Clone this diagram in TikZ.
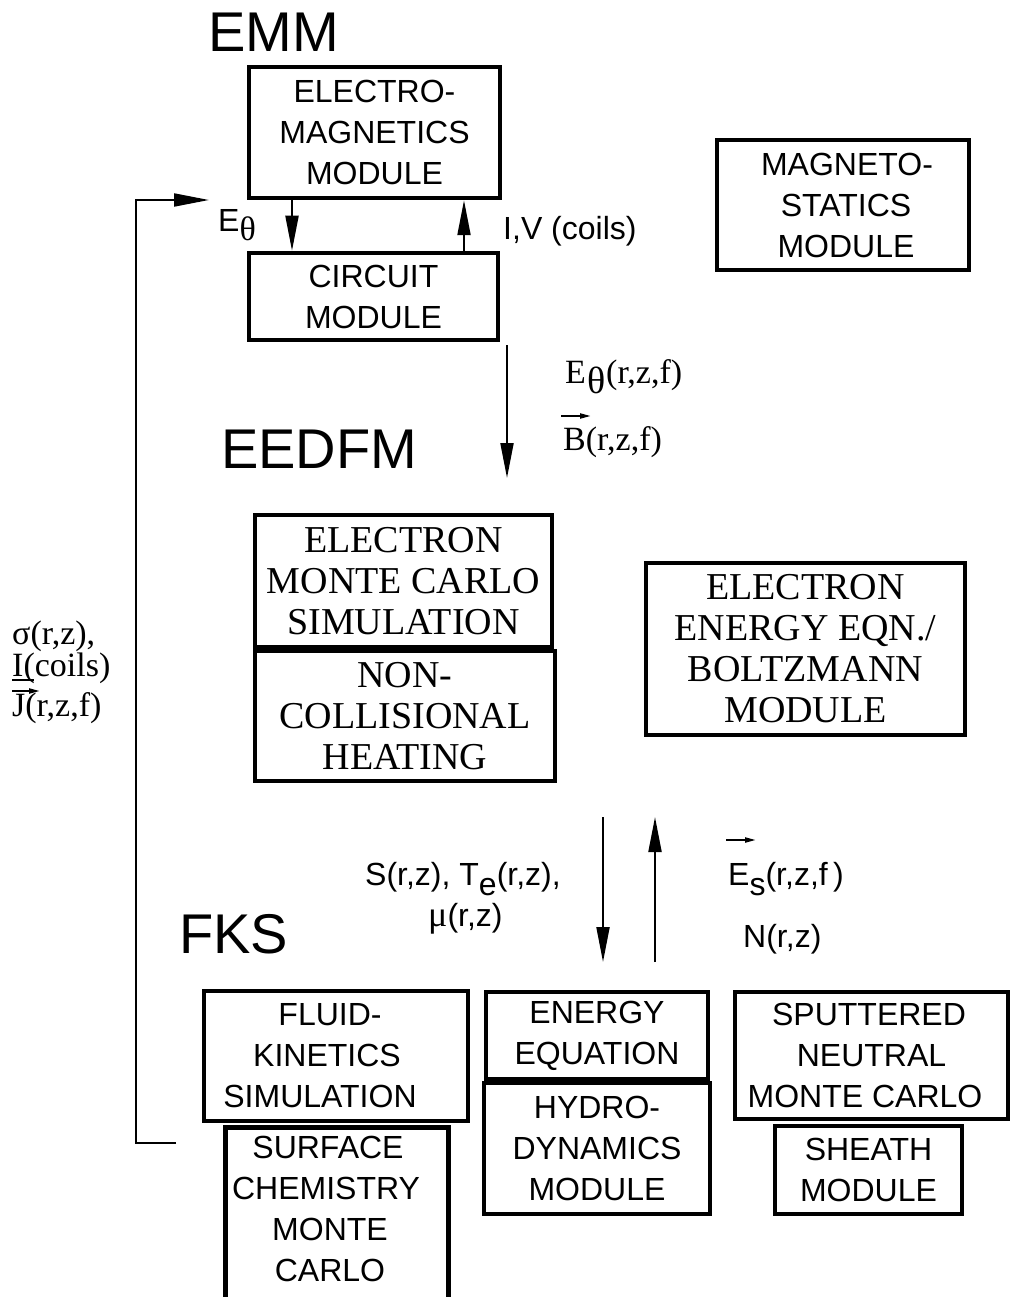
\documentclass[tikz,border=0pt]{standalone}
\usepackage{fontspec}
\setmainfont{Liberation Serif}
\newfontfamily\sansf{Liberation Sans}
\usetikzlibrary{arrows.meta}
\newcommand\shl[2]{\makebox[0pt]{#2\hspace*{#1}}}
\begin{document}
\begin{tikzpicture}[x=1pt,y=-1pt,
  box/.style={draw,line width=4.5pt,inner sep=0pt,align=center},
  sbox/.style={box,font=\sansf\fontsize{32}{41}\selectfont},
  rbox/.style={box,font=\fontsize{38}{41}\selectfont},
  head/.style={font=\sansf\fontsize{56}{60}\selectfont,anchor=base west,inner sep=0pt},
  slab/.style={font=\sansf\fontsize{32}{36}\selectfont,anchor=base west,inner sep=0pt},
  rlab/.style={font=\fontsize{34}{36}\selectfont,anchor=base west,inner sep=0pt},
  arr/.style={line width=2pt,-{Triangle[length=35pt,width=13pt]}},
  vecarr/.style={line width=2pt,-{Triangle[length=11pt,width=5pt]}},
  plain/.style={line width=2pt},
]
\clip (0,0) rectangle (1010,1297);
\fill[white] (0,0) rectangle (1010,1297);

% headings
\node[head] (hEMM) at (208,52) {EMM};
\node[head] (hEEDFM) at (221,468) {EEDFM};
\node[head] (hFKS) at (179,953) {FKS};

% EMM boxes
\node[sbox,minimum width=251pt,minimum height=131pt] (emm) at (374.5,132.5) {ELECTRO-\\MAGNETICS\\MODULE};
\node[sbox,minimum width=249pt,minimum height=87pt] (circ) at (373.5,296.5) {CIRCUIT\\MODULE};
\node[sbox,minimum width=252pt,minimum height=130pt] (mag) at (843,205) {\shl{-8pt}{MAGNETO-}\\\shl{-6pt}{STATICS}\\\shl{-6pt}{MODULE}};

\coordinate (xa) at (292,0);
\coordinate (xb) at (464,0);
\draw[arr] (emm.south -| xa) -- (circ.north -| xa);
\draw[arr] (circ.north -| xb) -- (emm.south -| xb);
\node[slab] (lEth) at (218,232) {E\raisebox{-9pt}{\rmfamily\fontsize{34}{36}\selectfont θ}};
\node[slab] (lIV) at (503,240) {I,V (coils)};

% EMM -> EEDFM
\coordinate (d1s) at (507,345);
\coordinate (d1e) at (507,478);
\draw[arr] (d1s) -- (d1e);
\node[rlab] (lEf) at (565,383) {E\kern2pt\raisebox{-10pt}{\fontsize{38}{40}\selectfont θ}(r,z,f)};
\node[rlab] (lB) at (563,450) {B(r,z,f)};
\draw[vecarr] ([xshift=-2pt,yshift=34pt]lB.base west) -- ++(30,0);

% EEDFM boxes
\node[rbox,minimum width=297pt,minimum height=132pt] (emc) at (403.5,581) {ELECTRON\\MONTE CARLO\\SIMULATION};
\node[rbox,minimum width=300pt,minimum height=130pt] (nch) at (405,716) {NON-\\COLLISIONAL\\HEATING};
\node[rbox,minimum width=319pt,minimum height=172pt] (eee) at (805.5,649) {ELECTRON\\ENERGY EQN./\\BOLTZMANN\\MODULE};

% left labels
\node[rlab] (lsig) at (12,644) {σ(r,z),};
\node[rlab] (lIc) at (12,676) {I(coils)};
\node[rlab] (lJ) at (12,716) {J(r,z,f)};
\draw[plain] ([yshift=-4pt]lIc.base west) -- ++(22,0);
\draw[vecarr] ([yshift=25pt]lJ.base west) -- ++(28,0);

% EEDFM <-> FKS
\coordinate (d2s) at (603,817);
\coordinate (d2e) at (603,962);
\coordinate (u2s) at (655,962);
\coordinate (u2e) at (655,817);
\draw[arr] (d2s) -- (d2e);
\draw[arr] (u2s) -- (u2e);
\node[slab] (lS) at (365,885) {S(r,z), T\raisebox{-10pt}{e}(r,z),};
\node[slab] (lmu) at (428,926) {{\rmfamily\fontsize{36}{36}\selectfont μ}(r,z)};
\node[slab] (lEs) at (728,885) {E\raisebox{-10pt}{s}(r,z,f\,)};
\draw[vecarr] ([xshift=-2pt,yshift=45pt]lEs.base west) -- ++(30,0);
\node[slab] (lN) at (743,947) {N(r,z)};

% FKS boxes
\node[sbox,minimum width=264pt,minimum height=130pt] (fluid) at (336,1056) {\shl{12pt}{FLUID-}\\\shl{18pt}{KINETICS}\\\shl{32pt}{SIMULATION}};
\node[sbox,minimum width=223pt,anchor=north,inner ysep=9pt,text depth=40pt] (surf) at (337,1125) {\shl{18pt}{SURFACE}\\\shl{22pt}{CHEMISTRY}\\\shl{14pt}{MONTE}\\\shl{14pt}{CARLO}};
\node[sbox,minimum width=222pt,minimum height=87pt] (energy) at (597,1035.5) {ENERGY\\EQUATION};
\node[sbox,minimum width=226pt,minimum height=131pt] (hydro) at (597,1148.5) {HYDRO-\\DYNAMICS\\MODULE};
\node[sbox,minimum width=273pt,minimum height=127pt] (sput) at (871.5,1055.5) {\shl{5pt}{SPUTTERED}\\NEUTRAL\\\shl{13pt}{MONTE CARLO}};
\node[sbox,minimum width=187pt,minimum height=88pt] (sheath) at (868.5,1170) {SHEATH\\MODULE};

% feedback loop
\coordinate (fbA) at (176,1143);
\coordinate (fbB) at (136,1143);
\coordinate (fbC) at (136,200);
\coordinate (fbD) at (209,200);
\draw[arr] (fbA) -- (fbB) -- (fbC) -- (fbD);
\end{tikzpicture}
\end{document}
